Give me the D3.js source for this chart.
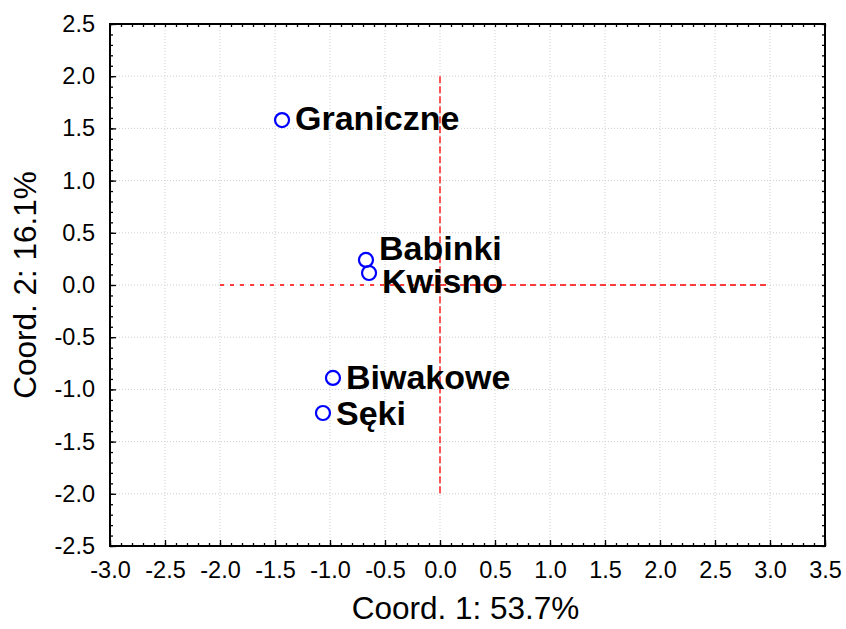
<!DOCTYPE html>
<html>
<head>
<meta charset="utf-8">
<script src="https://cdn.jsdelivr.net/npm/d3@7"></script>
<style>
  body { margin: 0; background: #fff; }
  svg { display: block; font-family: "Liberation Sans", Arial, sans-serif; }
</style>
</head>
<body>
<svg></svg>
<script>
// Site names and their ordination coordinates
const sites = ["Graniczne", "Babinki", "Kwisno", "Biwakowe", "Sęki"];
const coord1 = [-1.436, -0.673, -0.645, -0.973, -1.064];
const coord2 = [1.58, 0.24, 0.115, -0.89, -1.226];

const xTicks = [-3.0, -2.5, -2.0, -1.5, -1.0, -0.5, 0.0, 0.5, 1.0, 1.5, 2.0, 2.5, 3.0, 3.5];
const yTicks = [-2.5, -2.0, -1.5, -1.0, -0.5, 0.0, 0.5, 1.0, 1.5, 2.0, 2.5];

const xTitle = "Coord. 1: 53.7%";
const yTitle = "Coord. 2: 16.1%";

// vertical nudge of each label (px) so Babinki / Kwisno don't collide
const labelDy = [10, 0, 20, 11, 12];

const svgWidth = 846;
const svgHeight = 629;
const margin = { top: 24, right: 21, bottom: 83, left: 110 };
const width = svgWidth - margin.left - margin.right;
const height = svgHeight - margin.top - margin.bottom;

const svg = d3.select("svg")
    .attr("width", svgWidth)
    .attr("height", svgHeight)
    .append("g")
    .attr("transform", `translate(${margin.left},${margin.top})`);

const x = d3.scaleLinear().domain([-3, 3.5]).range([0, width]);
const y = d3.scaleLinear().domain([-2.5, 2.5]).range([height, 0]);

// light dotted grid at the major ticks
svg.append("g")
    .selectAll("line")
    .data(xTicks)
    .enter()
    .append("line")
    .attr("x1", d => x(d)).attr("x2", d => x(d))
    .attr("y1", 0).attr("y2", height)
    .attr("stroke", "#cfcfcf")
    .attr("stroke-width", 1)
    .attr("stroke-dasharray", "1,2");

svg.append("g")
    .selectAll("line")
    .data(yTicks)
    .enter()
    .append("line")
    .attr("x1", 0).attr("x2", width)
    .attr("y1", d => y(d)).attr("y2", d => y(d))
    .attr("stroke", "#cfcfcf")
    .attr("stroke-width", 1)
    .attr("stroke-dasharray", "1,2");

// red dashed reference lines through the origin
svg.append("line")
    .attr("x1", x(-2)).attr("x2", x(0))
    .attr("y1", y(0)).attr("y2", y(0))
    .attr("stroke", "red").attr("stroke-width", 1.3)
    .attr("stroke-dasharray", "4,6");

svg.append("line")
    .attr("x1", x(0)).attr("x2", x(3))
    .attr("y1", y(0)).attr("y2", y(0))
    .attr("stroke", "red").attr("stroke-width", 1.3)
    .attr("stroke-dasharray", "6,4");

svg.append("line")
    .attr("x1", x(0)).attr("x2", x(0))
    .attr("y1", y(2)).attr("y2", y(-2))
    .attr("stroke", "red").attr("stroke-width", 1.3)
    .attr("stroke-dasharray", "7,3");

// axes: ticks point inward, minor ticks every 0.1
const xMinor = d3.range(-30, 36).map(d => d / 10);
const yMinor = d3.range(-25, 26).map(d => d / 10);

svg.append("g")
    .attr("transform", `translate(0,${height})`)
    .call(d3.axisBottom(x).tickValues(xMinor).tickSize(-3).tickFormat(""))
    .call(g => g.select(".domain").remove());

svg.append("g")
    .call(d3.axisTop(x).tickValues(xMinor).tickSize(-3).tickFormat(""))
    .call(g => g.select(".domain").remove());

svg.append("g")
    .call(d3.axisLeft(y).tickValues(yMinor).tickSize(-3).tickFormat(""))
    .call(g => g.select(".domain").remove());

svg.append("g")
    .attr("transform", `translate(${width},0)`)
    .call(d3.axisRight(y).tickValues(yMinor).tickSize(-3).tickFormat(""))
    .call(g => g.select(".domain").remove());

const xAxis = svg.append("g")
    .attr("transform", `translate(0,${height})`)
    .call(d3.axisBottom(x).tickValues(xTicks).tickSize(-6).tickPadding(15).tickFormat(d => d.toFixed(1)));
xAxis.select(".domain").remove();
xAxis.selectAll("text").style("font-size", "23.5px").attr("fill", "#000");

const yAxis = svg.append("g")
    .call(d3.axisLeft(y).tickValues(yTicks).tickSize(-6).tickPadding(15).tickFormat(d => d.toFixed(1)));
yAxis.select(".domain").remove();
yAxis.selectAll("text").style("font-size", "23.5px").attr("fill", "#000");

svg.selectAll(".tick line").attr("stroke", "#000").attr("stroke-width", 1.3);

// frame
svg.append("rect")
    .attr("x", 0).attr("y", 0)
    .attr("width", width).attr("height", height)
    .attr("fill", "none")
    .attr("stroke", "#000")
    .attr("stroke-width", 2);

// points and labels
const pts = sites.map((s, i) => ({ name: s, c1: coord1[i], c2: coord2[i], dy: labelDy[i] }));

svg.selectAll(".pt")
    .data(pts)
    .enter()
    .append("circle")
    .attr("class", "pt")
    .attr("cx", d => x(d.c1))
    .attr("cy", d => y(d.c2))
    .attr("r", 7)
    .attr("fill", "none")
    .attr("stroke", "#0000ff")
    .attr("stroke-width", 2.2);

svg.selectAll(".lbl")
    .data(pts)
    .enter()
    .append("text")
    .attr("class", "lbl")
    .attr("x", d => x(d.c1) + 13)
    .attr("y", d => y(d.c2) + d.dy)
    .style("font-size", "34px")
    .style("font-weight", "bold")
    .text(d => d.name);

// axis titles
svg.append("text")
    .attr("x", width / 2 - 2)
    .attr("y", height + 73)
    .attr("text-anchor", "middle")
    .style("font-size", "31.5px")
    .text(xTitle);

svg.append("text")
    .attr("transform", `translate(${-74},${height / 2}) rotate(-90)`)
    .attr("text-anchor", "middle")
    .style("font-size", "31.5px")
    .text(yTitle);
</script>
</body>
</html>
